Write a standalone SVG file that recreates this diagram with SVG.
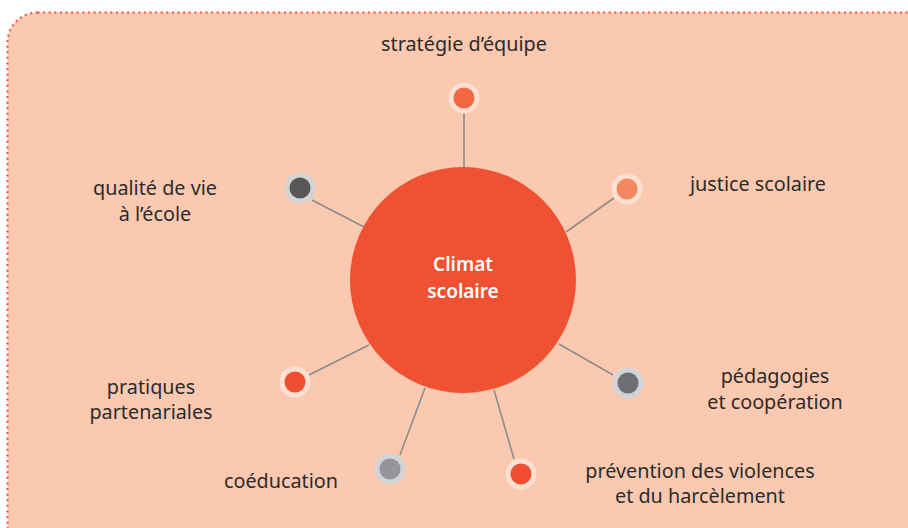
<svg xmlns="http://www.w3.org/2000/svg" width="908" height="528" viewBox="0 0 908 528">
<style>
.lbl{font-family:"Noto Sans","Liberation Sans",sans-serif;font-size:19.8px;fill:#2b2b2b;text-anchor:middle}
.ctr{font-family:"Noto Sans","Liberation Sans",sans-serif;font-size:19px;font-weight:600;fill:#ffffff;text-anchor:middle}
.ln{stroke:#8c8c8c;stroke-width:1.6;fill:none}
.ringw{fill:#fde0d2}
.ringg{fill:#d2d3d5}
</style>
<rect x="7.5" y="12.5" width="930" height="550" rx="30" ry="30" fill="#fbc9b0" stroke="#f04e30" stroke-width="2" stroke-dasharray="2 3.6"/>
<g id="connectors">
<line class="ln" x1="464" y1="113" x2="464" y2="168"/>
<line class="ln" x1="614" y1="198" x2="566" y2="232"/>
<line class="ln" x1="312" y1="200" x2="366" y2="228"/>
<line class="ln" x1="613" y1="375" x2="559" y2="344"/>
<line class="ln" x1="309" y1="375" x2="369" y2="345"/>
<line class="ln" x1="400" y1="455" x2="425" y2="388"/>
<line class="ln" x1="514" y1="459" x2="494" y2="390"/>
</g>
<g id="center">
<circle cx="463" cy="280" r="113" fill="#f05133"/>
<text class="ctr" x="463" y="271">Climat</text>
<text class="ctr" x="463" y="298">scolaire</text>
</g>
<g id="n-strategie">
<circle class="ringw" cx="464" cy="98" r="15.5"/>
<circle cx="464" cy="98" r="10.5" fill="#f26843"/>
<text class="lbl" x="464" y="51">stratégie d’équipe</text>
</g>
<g id="n-justice">
<circle class="ringw" cx="627" cy="189" r="15.5"/>
<circle cx="627" cy="189" r="10.5" fill="#f68763"/>
<text class="lbl" x="758" y="191">justice scolaire</text>
</g>
<g id="n-qualite">
<circle class="ringg" cx="300" cy="188" r="15.5"/>
<circle cx="300" cy="188" r="10.5" fill="#58585a"/>
<text class="lbl" x="155" y="195">qualité de vie</text>
<text class="lbl" x="155" y="221">à l’école</text>
</g>
<g id="n-pedagogies">
<circle class="ringg" cx="628" cy="383" r="15.5"/>
<circle cx="628" cy="383" r="10.5" fill="#6d6e71"/>
<text class="lbl" x="775" y="383">pédagogies</text>
<text class="lbl" x="775" y="409">et coopération</text>
</g>
<g id="n-pratiques">
<circle class="ringw" cx="295" cy="382" r="15.5"/>
<circle cx="295" cy="382" r="10.5" fill="#f04e30"/>
<text class="lbl" x="151" y="394">pratiques</text>
<text class="lbl" x="151" y="419">partenariales</text>
</g>
<g id="n-coeducation">
<circle class="ringg" cx="390" cy="469" r="15.5"/>
<circle cx="390" cy="469" r="10.5" fill="#939598"/>
<text class="lbl" x="281" y="488">coéducation</text>
</g>
<g id="n-prevention">
<circle class="ringw" cx="521" cy="474" r="15.5"/>
<circle cx="521" cy="474" r="10.5" fill="#f04e30"/>
<text class="lbl" x="700" y="478">prévention des violences</text>
<text class="lbl" x="700" y="503">et du harcèlement</text>
</g>
</svg>
